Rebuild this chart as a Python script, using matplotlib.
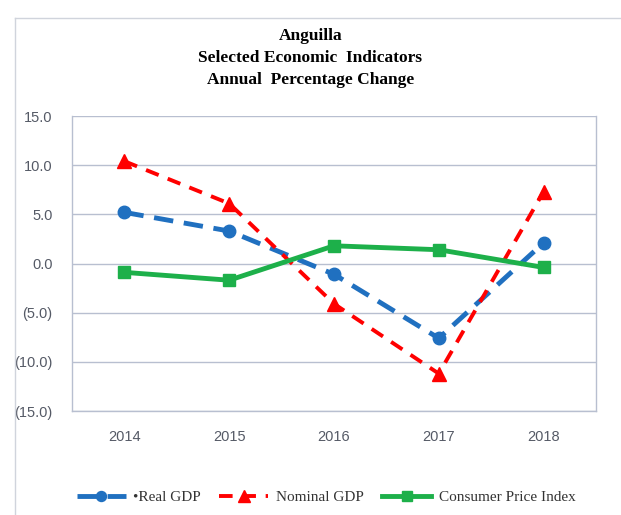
import matplotlib
matplotlib.use("Agg")
import matplotlib.pyplot as plt
from matplotlib.lines import Line2D

years = ["2014", "2015", "2016", "2017", "2018"]
real_gdp = [5.2, 3.3, -1.1, -7.6, 2.1]
nominal_gdp = [10.4, 6.1, -4.1, -11.2, 7.3]
cpi = [-0.9, -1.7, 1.8, 1.4, -0.4]
yticks = [15, 10, 5, 0, -5, -10, -15]
ytick_labels = ["15.0", "10.0", "5.0", "0.0", "(5.0)", "(10.0)", "(15.0)"]

W, H = 621, 515
fig = plt.figure(figsize=(W/100, H/100), dpi=100)
ax = fig.add_axes([72/W, 1-411/H, (596-72)/W, (411-116)/H])

x = list(range(len(years)))
ax.plot(x, real_gdp, color="#2070C0", lw=3.5, dashes=(4, 2.2), marker="o", ms=9, label="•Real GDP")
ax.plot(x, nominal_gdp, color="#FF0000", lw=2.8, dashes=(3.5, 2.5), marker="^", ms=10, label="Nominal GDP")
ax.plot(x, cpi, color="#1DB04A", lw=3.5, marker="s", ms=9, label="Consumer Price Index")

ax.set_xlim(-0.5, 4.5)
ax.set_ylim(-15, 15)
ax.set_yticks(yticks)
ax.set_yticklabels(ytick_labels)
ax.set_xticks(x)
ax.set_xticklabels(years)
ax.grid(axis="y", color="#B8BFD0", lw=1)
ax.set_axisbelow(True)
for s in ["left", "right", "bottom", "top"]:
    ax.spines[s].set_color("#B8BFD0")
    ax.spines[s].set_linewidth(1)
ax.spines["top"].set_visible(False)
ax.tick_params(axis="both", length=0, colors="#555A66", labelsize=10.5)
ax.tick_params(axis="y", pad=14)
ax.tick_params(axis="x", pad=14)
for lab in ax.get_xticklabels() + ax.get_yticklabels():
    lab.set_fontfamily("Liberation Sans")

fig.text(0.5, 1-36/H, "Anguilla", ha="center", va="center", fontsize=12.5,
         fontweight="bold", family="Liberation Serif")
fig.text(0.5, 1-58/H, "Selected Economic  Indicators", ha="center", va="center", fontsize=12.5,
         fontweight="bold", family="Liberation Serif")
fig.text(0.5, 1-80/H, "Annual  Percentage Change", ha="center", va="center", fontsize=12.5,
         fontweight="bold", family="Liberation Serif")

# outer chart frame (left and top edges)
fig.add_artist(Line2D([15/W, 15/W], [0, 1-18/H], transform=fig.transFigure, color="#D0D4DC", lw=1))
fig.add_artist(Line2D([15/W, 1], [1-18/H, 1-18/H], transform=fig.transFigure, color="#D0D4DC", lw=1))

leg = fig.legend(loc="center", bbox_to_anchor=(0.525, 1-497/H), ncol=3, frameon=False,
                 prop={"family": "Liberation Serif", "size": 11}, handlelength=3.2,
                 columnspacing=1.2, handletextpad=0.5, markerscale=0.8)
for t in leg.get_texts():
    t.set_color("#333333")

fig.savefig("out.png", dpi=100)
